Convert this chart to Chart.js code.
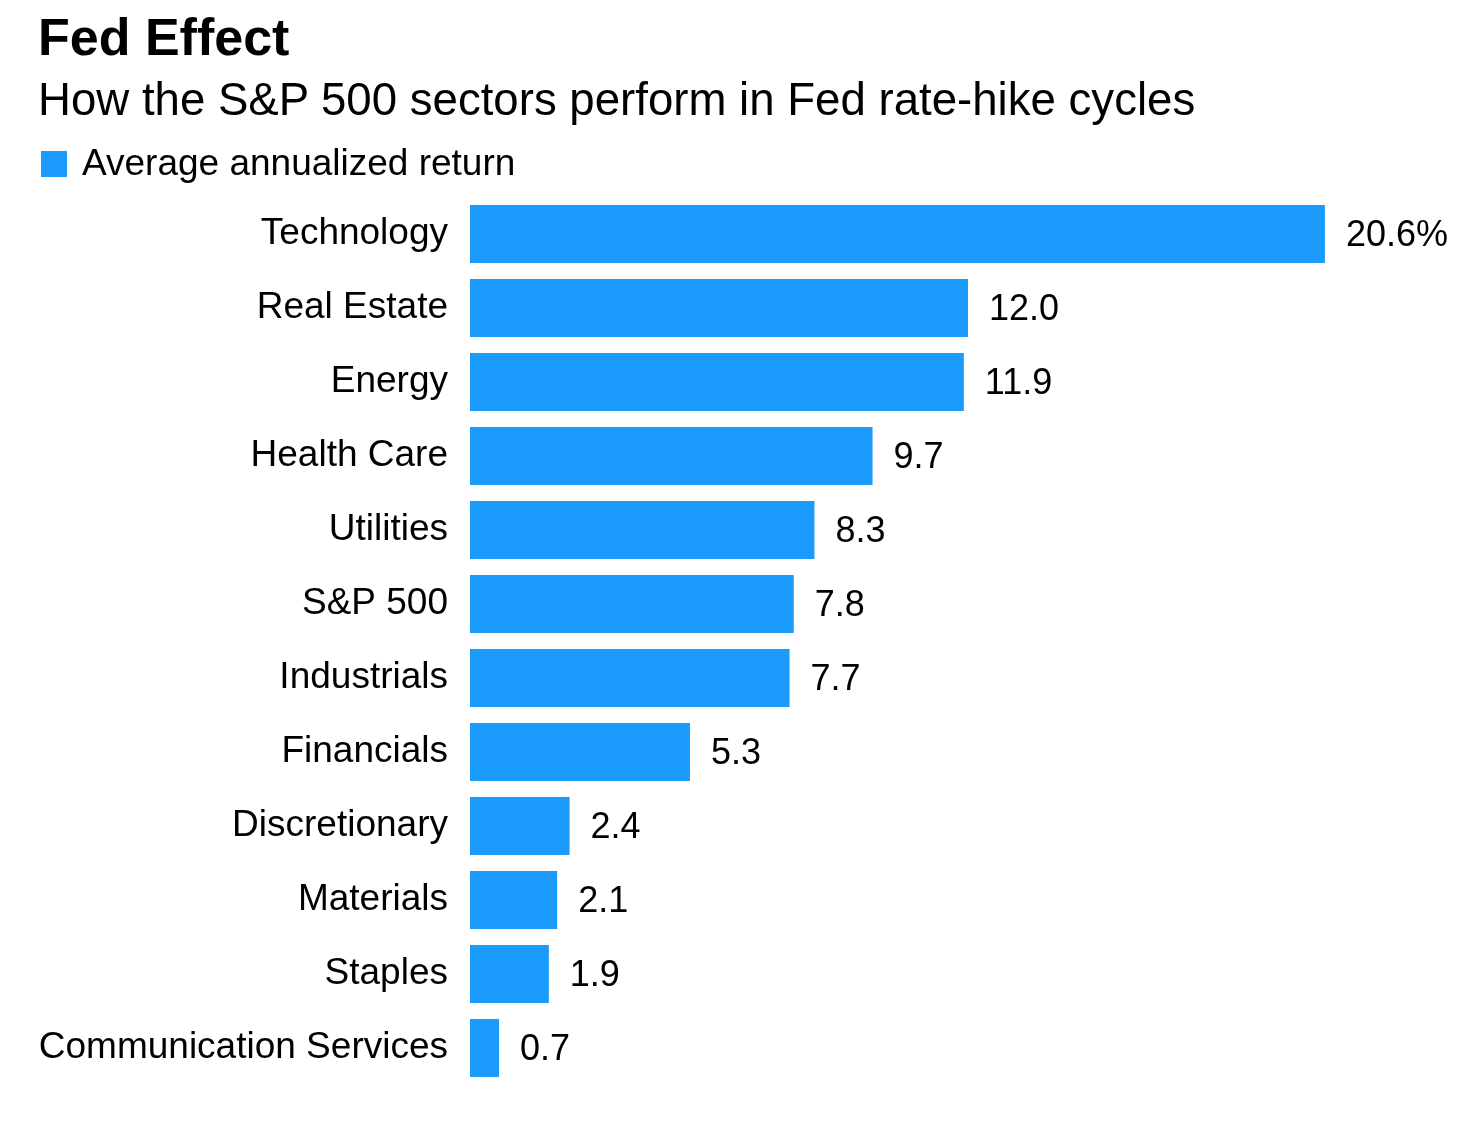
<!DOCTYPE html>
<html>
<head>
<meta charset="utf-8">
<script src="https://cdn.jsdelivr.net/npm/chart.js@4"></script>
<style>
  html, body { margin: 0; padding: 0; background: #fff; }
  #wrap { position: relative; width: 1466px; height: 1130px; font-family: "Liberation Sans", Arial, sans-serif; color: #000; }
  #chart { position: absolute; left: 0; top: 0; }
  .hd { position: absolute; left: 38px; white-space: nowrap; }
  #title { top: 11px; font-size: 52px; line-height: 52px; font-weight: bold; }
  #subtitle { top: 77px; font-size: 45.6px; line-height: 45.6px; }
  #legend { top: 144px; font-size: 37px; line-height: 37px; left: 41px; }
  #legend .box { display: inline-block; width: 26px; height: 26px; vertical-align: -2px; margin-right: 15px; }
</style>
</head>
<body>
<div id="wrap">
  <canvas id="chart" width="1466" height="1130"></canvas>
  <div class="hd" id="title">Fed Effect</div>
  <div class="hd" id="subtitle">How the S&amp;P 500 sectors perform in Fed rate-hike cycles</div>
  <div class="hd" id="legend"><span class="box"></span><span id="legend-label"></span></div>
</div>
<script>
// 数据
const sectors = ['Technology', 'Real Estate', 'Energy', 'Health Care', 'Utilities', 'S&P 500',
  'Industrials', 'Financials', 'Discretionary', 'Materials', 'Staples', 'Communication Services'];
const returns = [20.6, 12.0, 11.9, 9.7, 8.3, 7.8, 7.7, 5.3, 2.4, 2.1, 1.9, 0.7];
const seriesLabel = 'Average annualized return';

const BAR_COLOR = '#1a9bfc';
const FONT = '"Liberation Sans", Arial, sans-serif';

document.getElementById('legend-label').textContent = seriesLabel;
document.querySelector('#legend .box').style.background = BAR_COLOR;

// 柱子右侧数值
const valueLabels = {
  id: 'valueLabels',
  afterDatasetsDraw(chart) {
    const ctx = chart.ctx;
    const meta = chart.getDatasetMeta(0);
    ctx.save();
    ctx.font = '36px ' + FONT;
    ctx.fillStyle = '#000';
    ctx.textAlign = 'left';
    ctx.textBaseline = 'middle';
    meta.data.forEach((bar, i) => {
      const v = returns[i].toFixed(1) + (i === 0 ? '%' : '');
      ctx.fillText(v, bar.x + 21, bar.y + 2);
    });
    ctx.restore();
  }
};

new Chart(document.getElementById('chart'), {
  type: 'bar',
  data: {
    labels: sectors,
    datasets: [{
      label: seriesLabel,
      data: returns,
      backgroundColor: BAR_COLOR,
      borderWidth: 0,
      categoryPercentage: 1,
      barPercentage: 0.784,
    }],
  },
  options: {
    indexAxis: 'y',
    responsive: false,
    animation: false,
    devicePixelRatio: 1,
    layout: { padding: { top: 197, bottom: 45, left: 30, right: 0 } },
    plugins: {
      legend: { display: false },
      tooltip: { enabled: false },
    },
    scales: {
      x: { display: false, min: 0, max: 24 },
      y: {
        grid: { display: false, drawTicks: false },
        border: { display: false },
        afterFit: s => { s.width = 440; },
        ticks: {
          padding: 22,
          color: '#000',
          font: { family: FONT, size: 37 },
        },
      },
    },
  },
  plugins: [valueLabels],
});
</script>
</body>
</html>
